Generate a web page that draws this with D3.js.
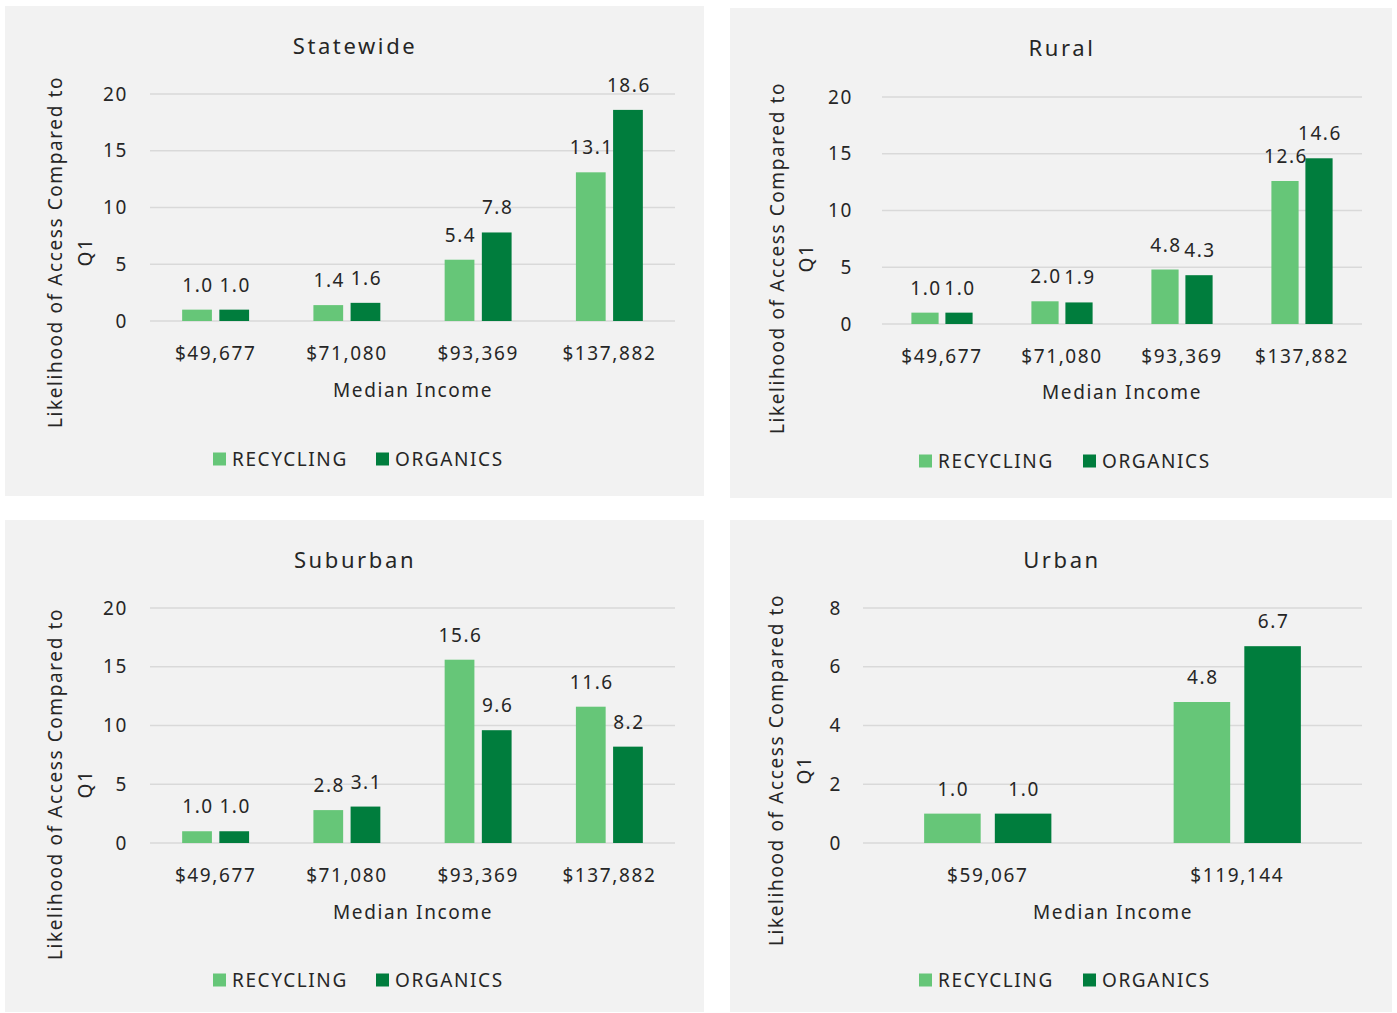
<!DOCTYPE html>
<html>
<head>
<meta charset="utf-8">
<script src="https://cdn.jsdelivr.net/npm/d3@7"></script>
<style>
  body { margin: 0; background: #ffffff; }
  svg text { font-family: "Noto Sans", "Open Sans", sans-serif; fill: #262626; letter-spacing: 1.6px; }
</style>
</head>
<body>
<svg id="chart"></svg>
<script>
// ---- data ----
const series = ['RECYCLING', 'ORGANICS'];
const incomes4 = ['$49,677', '$71,080', '$93,369', '$137,882'];
const incomesUrban = ['$59,067', '$119,144'];

const statewideRecycling = [1.0, 1.4, 5.4, 13.1];
const statewideOrganics  = [1.0, 1.6, 7.8, 18.6];
const ruralRecycling     = [1.0, 2.0, 4.8, 12.6];
const ruralOrganics      = [1.0, 1.9, 4.3, 14.6];
const suburbanRecycling  = [1.0, 2.8, 15.6, 11.6];
const suburbanOrganics   = [1.0, 3.1, 9.6, 8.2];
const urbanRecycling     = [1.0, 4.8];
const urbanOrganics      = [1.0, 6.7];

const yTicks20 = [0, 5, 10, 15, 20];
const yTicks8  = [0, 2, 4, 6, 8];

const colors = { RECYCLING: '#66c678', ORGANICS: '#007d3d' };

// ---- layout (absolute px) ----
const panels = [
    { title: 'Statewide', cats: incomes4, rec: statewideRecycling, org: statewideOrganics, ticks: yTicks20,
      box: [5, 6, 699, 490], titleXY: [354, 45], plot: [150, 675, 94, 321], tickGap: 22,
      xLabelY: 353, xTitleXY: [413, 390], yLabel: [55, 85, 252], legend: [459, 213, 376] },
    { title: 'Rural', cats: incomes4, rec: ruralRecycling, org: ruralOrganics, ticks: yTicks20,
      box: [730, 8, 662, 490], titleXY: [1061, 47], plot: [882, 1362, 97, 324], tickGap: 29,
      xLabelY: 356, xTitleXY: [1122, 392], yLabel: [777, 806, 258], legend: [461, 919, 1083] },
    { title: 'Suburban', cats: incomes4, rec: suburbanRecycling, org: suburbanOrganics, ticks: yTicks20,
      box: [5, 520, 699, 492], titleXY: [354, 559], plot: [150, 675, 608, 843], tickGap: 22,
      xLabelY: 875, xTitleXY: [413, 912], yLabel: [55, 85, 784], legend: [980, 213, 376] },
    { title: 'Urban', cats: incomesUrban, rec: urbanRecycling, org: urbanOrganics, ticks: yTicks8,
      box: [730, 520, 662, 492], titleXY: [1061, 559], plot: [863, 1362, 608, 843], tickGap: 21,
      xLabelY: 875, xTitleXY: [1113, 912], yLabel: [776, 804, 770], legend: [980, 919, 1083] }
];

const svg = d3.select('#chart')
    .attr('width', 1397)
    .attr('height', 1013);

panels.forEach(p => drawPanel(p));

function drawPanel(p) {
    const [bx, by, bw, bh] = p.box;
    const [left, right, top, bottom] = p.plot;
    const g = svg.append('g');

    g.append('rect')
        .attr('x', bx).attr('y', by)
        .attr('width', bw).attr('height', bh)
        .attr('fill', '#f2f2f2');

    g.append('text')
        .attr('x', p.titleXY[0] + 1).attr('y', p.titleXY[1])
        .attr('text-anchor', 'middle')
        .attr('dominant-baseline', 'central')
        .style('font-size', '22px')
        .style('letter-spacing', '2.6px')
        .text(p.title);

    const rows = p.cats.map((c, i) => ({ cat: c, RECYCLING: p.rec[i], ORGANICS: p.org[i] }));

    const x0 = d3.scaleBand()
        .domain(p.cats)
        .range([left, right])
        .paddingInner(0.49)
        .paddingOuter(0.245);

    const x1 = d3.scaleBand()
        .domain(series)
        .range([0, x0.bandwidth()])
        .paddingInner(0.2);

    const y = d3.scaleLinear()
        .domain([0, d3.max(p.ticks)])
        .range([bottom, top]);

    // gridlines
    g.append('g')
        .selectAll('line')
        .data(p.ticks)
        .join('line')
        .attr('x1', left).attr('x2', right)
        .attr('y1', d => y(d)).attr('y2', d => y(d))
        .attr('stroke', '#d9d9d9')
        .attr('stroke-width', 1.5);

    // y axis labels
    const yaxis = d3.axisLeft(y)
        .tickValues(p.ticks)
        .tickSize(0)
        .tickPadding(p.tickGap);
    g.append('g')
        .attr('transform', `translate(${left}, 0)`)
        .call(yaxis)
        .call(a => a.select('.domain').remove())
        .selectAll('text')
        .style('font-size', '19px')
        .attr('fill', '#262626');

    // x axis labels
    const xaxis = d3.axisBottom(x0).tickSize(0).tickPadding(0);
    g.append('g')
        .attr('transform', `translate(0, ${p.xLabelY})`)
        .call(xaxis)
        .call(a => a.select('.domain').remove())
        .selectAll('text')
        .attr('dy', null)
        .attr('dominant-baseline', 'central')
        .style('font-size', '19px')
        .attr('fill', '#262626');

    // bars
    const groups = g.append('g')
        .selectAll('g')
        .data(rows)
        .join('g')
        .attr('transform', d => `translate(${x0(d.cat)}, 0)`);

    groups.selectAll('rect')
        .data(d => series.map(s => ({ key: s, value: d[s] })))
        .join('rect')
        .attr('x', d => x1(d.key))
        .attr('width', x1.bandwidth())
        .attr('y', d => y(d.value))
        .attr('height', d => y(0) - y(d.value))
        .attr('fill', d => colors[d.key]);

    groups.selectAll('text.val')
        .data(d => series.map(s => ({ key: s, value: d[s] })))
        .join('text')
        .attr('class', 'val')
        .attr('x', d => x1(d.key) + x1.bandwidth() / 2 + 1)
        .attr('y', d => y(d.value) - 18)
        .attr('text-anchor', 'middle')
        .style('font-size', '19px')
        .text(d => d3.format('.1f')(d.value));

    // axis titles
    g.append('text')
        .attr('x', p.xTitleXY[0]).attr('y', p.xTitleXY[1])
        .attr('text-anchor', 'middle')
        .attr('dominant-baseline', 'central')
        .style('font-size', '19px')
        .text('Median Income');

    const [lx1, lx2, ly] = p.yLabel;
    g.append('text')
        .attr('transform', `translate(${lx1}, ${ly}) rotate(-90)`)
        .attr('text-anchor', 'middle')
        .attr('dominant-baseline', 'central')
        .style('font-size', '19px')
        .text('Likelihood of Access Compared to');
    g.append('text')
        .attr('transform', `translate(${lx2}, ${ly}) rotate(-90)`)
        .attr('text-anchor', 'middle')
        .attr('dominant-baseline', 'central')
        .style('font-size', '19px')
        .text('Q1');

    // legend
    const [legY, sx1, sx2] = p.legend;
    const leg = g.append('g')
        .selectAll('g')
        .data(series)
        .join('g')
        .attr('transform', (d, i) => `translate(${i === 0 ? sx1 : sx2}, ${legY})`);
    leg.append('rect')
        .attr('x', 0).attr('y', -6.5)
        .attr('width', 13).attr('height', 13)
        .attr('fill', d => colors[d]);
    leg.append('text')
        .attr('x', 19).attr('y', 0)
        .attr('dominant-baseline', 'central')
        .style('font-size', '19px')
        .text(d => d);
}
</script>
</body>
</html>
